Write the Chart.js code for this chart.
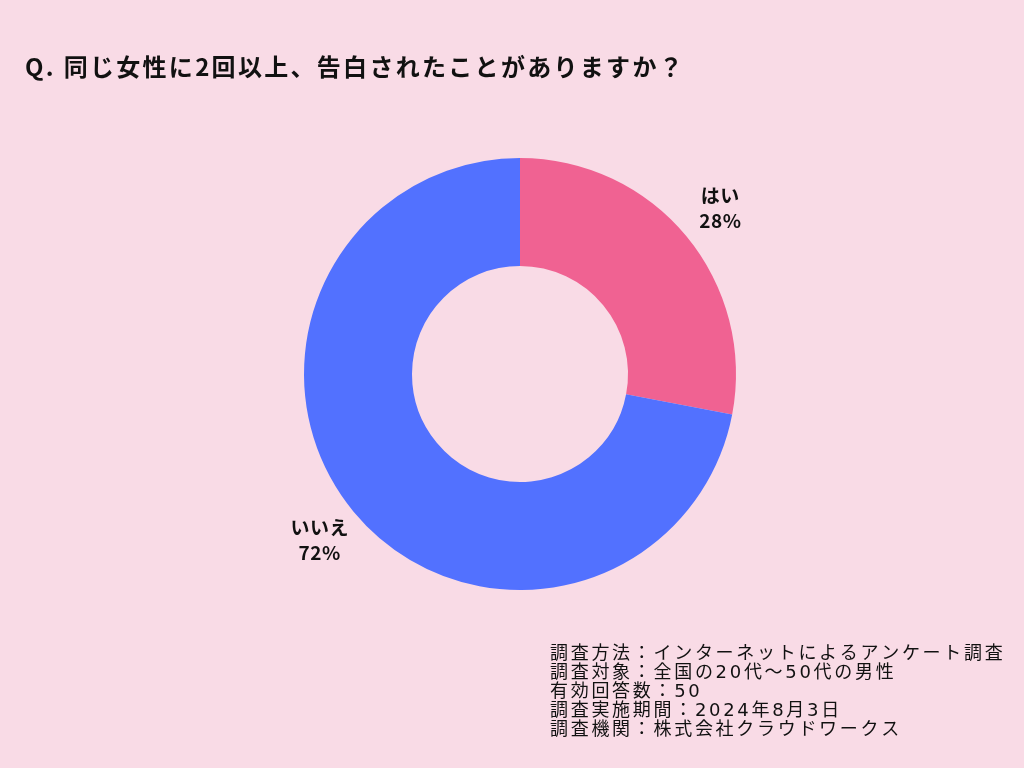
<!DOCTYPE html>
<html>
<head>
<meta charset="utf-8">
<script src="https://cdn.jsdelivr.net/npm/chart.js@4"></script>
<style>
  html, body { margin: 0; padding: 0; background: #F9DBE6; }
  #wrap { width: 1024px; height: 768px; }
</style>
</head>
<body>
<div id="wrap"><canvas id="surveyChart" width="1024" height="768"></canvas></div>
<script>
/* ---------- data ---------- */
var titleText = 'Q. 同じ女性に2回以上、告白されたことがありますか？';
var labels = [ 'はい', 'いいえ' ];
var values = [ 28, 72 ];
var colors = [ '#F06292', '#5271FF' ];
var notes = [
	'調査方法：インターネットによるアンケート調査',
	'調査対象：全国の20代〜50代の男性',
	'有効回答数：50',
	'調査実施期間：2024年8月3日',
	'調査機関：株式会社クラウドワークス'
];

/* ---------- plugins ---------- */
var bgPlugin = {
	id: 'bg',
	beforeDraw: function (chart) {
		var c = chart.ctx;
		c.save();
		c.fillStyle = '#F9DBE6';
		c.fillRect(0, 0, chart.width, chart.height);
		c.restore();
	}
};

var textPlugin = {
	id: 'texts',
	afterDraw: function (chart) {
		var c = chart.ctx;
		c.save();

		// title
		c.fillStyle = '#111';
		c.font = 'bold 24px "Noto Sans CJK JP", sans-serif';
		c.letterSpacing = '2.3px';
		c.textBaseline = 'middle';
		c.textAlign = 'left';
		c.fillText(titleText, 25, 67);

		// slice labels
		var meta = chart.getDatasetMeta(0);
		var total = values.reduce(function (a, b) { return a + b; }, 0);
		c.letterSpacing = '0.5px';
		c.textAlign = 'center';
		c.font = 'bold 19px "Noto Sans CJK JP", sans-serif';
		meta.data.forEach(function (arc, i) {
			var mid = (arc.startAngle + arc.endAngle) / 2;
			var r = arc.outerRadius + 44;
			var x = arc.x + Math.cos(mid) * r;
			var y = arc.y + Math.sin(mid) * r;
			c.fillText(labels[i], x, y - 12);
			c.fillText(Math.round(values[i] / total * 100) + '%', x, y + 13);
		});

		// footnote
		c.textAlign = 'left';
		c.font = '18px "DejaVu Sans", "Noto Sans CJK JP", sans-serif';
		c.letterSpacing = '2.7px';
		notes.forEach(function (line, i) {
			c.fillText(line, 550, 654 + i * 19);
		});
		c.restore();
	}
};

/* ---------- chart ---------- */
var ctx = document.getElementById('surveyChart').getContext('2d');

var surveyChart = new Chart(ctx, {
	type: 'doughnut',
	data: {
		labels: labels,
		datasets: [{
			data: values,
			backgroundColor: colors,
			borderWidth: 0,
			hoverOffset: 0
		}]
	},
	options: {
		responsive: false,
		animation: false,
		cutout: '50%',
		layout: {
			padding: {
				left:   304,
				right:  288,
				top:    158,
				bottom: 178
			}
		},
		plugins: {
			legend: { display: false },
			tooltip: { enabled: false }
		}
	},
	plugins: [ bgPlugin, textPlugin ]
});
</script>
</body>
</html>
